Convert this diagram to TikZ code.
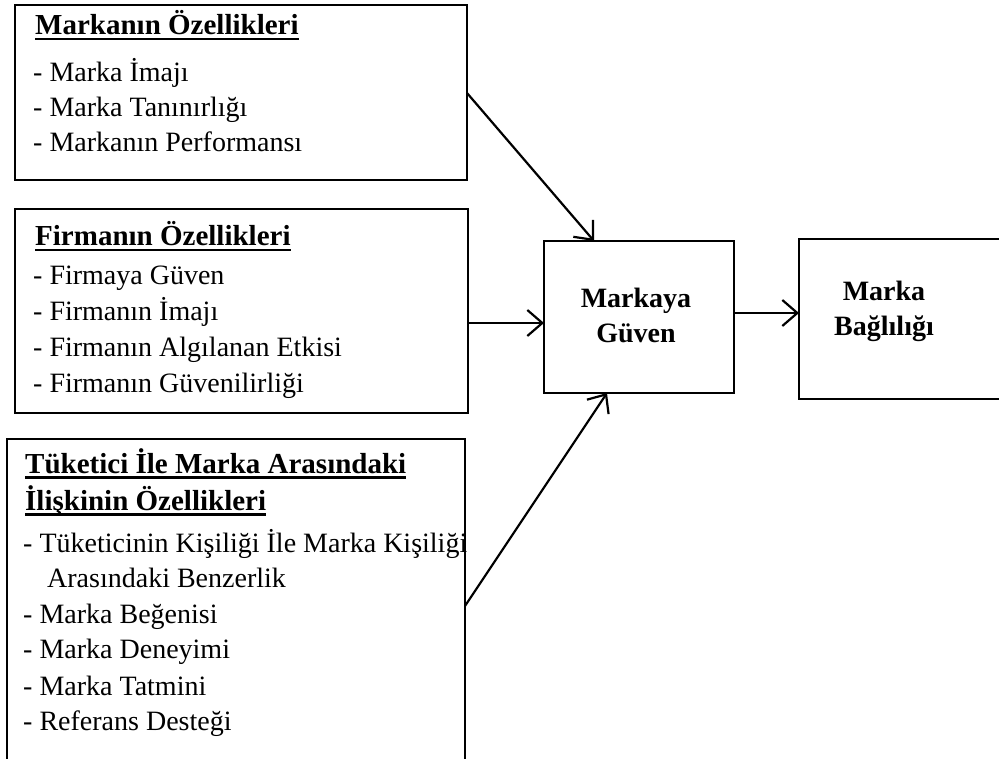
\documentclass[tikz,border=0pt]{standalone}
\usepackage{fontspec}
\setmainfont{Liberation Serif}
\usetikzlibrary{arrows.meta}

% bold heading with a heavy underline
\newcommand\ultitle[1]{\setbox0\hbox{\fontsize{29}{35}\selectfont\bfseries #1}\rlap{\rule[-5.5pt]{\wd0}{2.6pt}}\box0}

\begin{document}
\begin{tikzpicture}[x=1pt,y=-1pt,
  box/.style={draw, line width=1.6pt, rectangle, inner sep=0pt, outer sep=0pt, anchor=north west},
  frame/.style={line width=1.6pt},
  txt/.style={anchor=base west, inner sep=0pt, font=\fontsize{28}{35}\selectfont},
  ctxt/.style={anchor=base, inner sep=0pt, font=\fontsize{28}{35}\selectfont\bfseries},
  link/.style={line width=2.2pt, -{Straight Barb[length=15pt,width=26pt,line width=2.2pt]}}]
\useasboundingbox (0,0) rectangle (999,759);
\clip (0,0) rectangle (999,759);

% boxes
\node[box, minimum width=452pt, minimum height=175pt] (b1) at (15,5) {};
\node[box, minimum width=453pt, minimum height=204pt] (b2) at (15,209) {};
\node[box, minimum width=458pt, minimum height=400pt] (b3) at (7,439) {};
\node[box, minimum width=190pt, minimum height=152pt] (gv) at (544,241) {};
% the last box runs off the right side of the page
\node[box, draw=none, minimum width=400pt, minimum height=160pt] (bg) at (799,239) {};
\draw[frame] (bg.north east) -- (bg.north west) -- (bg.south west) -- (bg.south east);

% brand features
\node[txt] (b1h) at (35,35) {\ultitle{Markanın Özellikleri}};
\node[txt] (b1a) at (33,82) {- Marka İmajı};
\node[txt] (b1b) at (33,117) {- Marka Tanınırlığı};
\node[txt] (b1c) at (33,152) {- Markanın Performansı};

% company features
\node[txt] (b2h) at (35,246) {\ultitle{Firmanın Özellikleri}};
\node[txt] (b2a) at (33,285) {- Firmaya Güven};
\node[txt] (b2b) at (33,321) {- Firmanın İmajı};
\node[txt] (b2c) at (33,357) {- Firmanın Algılanan Etkisi};
\node[txt] (b2d) at (33,392) {- Firmanın Güvenilirliği};

% consumer-brand relationship
\node[txt] (b3h) at (25,473) {\ultitle{Tüketici İle Marka Arasındaki}};
\node[txt] (b3i) at (25,510) {\ultitle{İlişkinin Özellikleri}};
\node[txt] (b3a) at (23,552) {- Tüketicinin Kişiliği İle Marka Kişiliği};
\node[txt] (b3b) at (47,587) {Arasındaki Benzerlik};
\node[txt] (b3c) at (23,623) {- Marka Beğenisi};
\node[txt] (b3d) at (23,658) {- Marka Deneyimi};
\node[txt] (b3e) at (23,695) {- Marka Tatmini};
\node[txt] (b3f) at (23,730) {- Referans Desteği};

% outcome boxes
\node[ctxt] (gv1) at (636,308) {Markaya};
\node[ctxt] (gv2) at (636,343) {Güven};
\node[ctxt] (bg1) at (884,301) {Marka};
\node[ctxt] (bg2) at (884,336) {Bağlılığı};

% connectors
\draw[link] (b1.east |- 0,93) -- (594,0 |- gv.north);
\draw[link] (b2.east |- 0,323) -- (gv.west |- 0,323);
\draw[link] (b3.east |- 0,606) -- (607,0 |- gv.south);
\draw[link] (gv.east |- 0,313) -- (bg.west |- 0,313);
\end{tikzpicture}
\end{document}
